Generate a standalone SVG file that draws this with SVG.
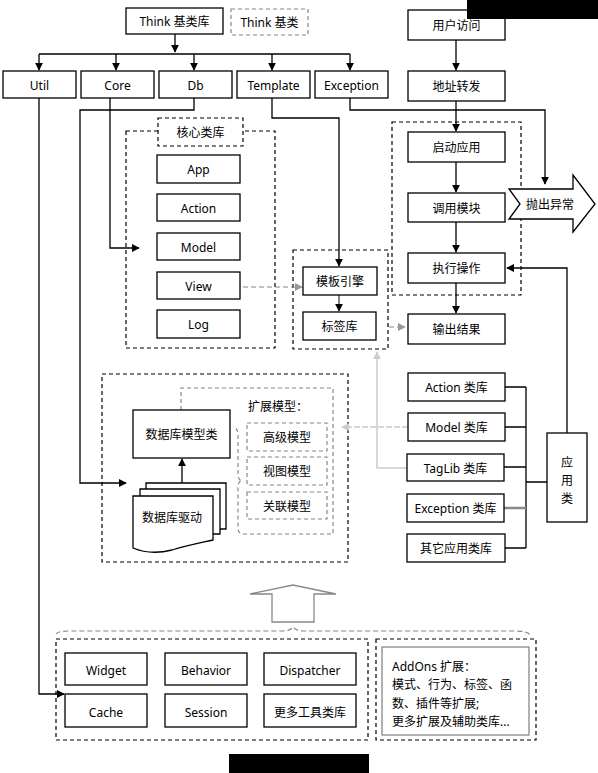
<svg xmlns="http://www.w3.org/2000/svg" width="598" height="773" viewBox="0 0 598 773">
<style>
.box{fill:#fff;stroke:#000;stroke-width:1.3}
.dash{fill:none;stroke:#000;stroke-width:1.2;stroke-dasharray:4,3}
.gdash{fill:none;stroke:#888;stroke-width:1.2;stroke-dasharray:4,3}
.gbox{fill:#fff;stroke:#888;stroke-width:1.3}
.ln{fill:none;stroke:#000;stroke-width:1.3}
.gl{fill:none;stroke:#ccc;stroke-width:1.5}
.gld{fill:none;stroke:#ccc;stroke-width:1.5;stroke-dasharray:6,2}
.gd{fill:none;stroke:#888;stroke-width:1.2;stroke-dasharray:5,3}
text{font-family:"Noto Sans","Noto Sans CJK SC",sans-serif;font-size:12px;fill:#000}
.c{text-anchor:middle;dominant-baseline:central}
.l{dominant-baseline:central}
</style>
<defs>
<marker id="ab" viewBox="0 0 10 10" refX="9" refY="5" markerWidth="8" markerHeight="8" markerUnits="userSpaceOnUse" orient="auto"><path d="M0,0L10,5L0,10z" fill="#000"/></marker>
<marker id="ag" viewBox="0 0 10 10" refX="9" refY="5" markerWidth="8" markerHeight="8" markerUnits="userSpaceOnUse" orient="auto"><path d="M0,0L10,5L0,10z" fill="#999"/></marker>
<marker id="al" viewBox="0 0 10 10" refX="9" refY="5" markerWidth="8" markerHeight="8" markerUnits="userSpaceOnUse" orient="auto"><path d="M0,0L10,5L0,10z" fill="#ccc"/></marker>
</defs>

<!-- containers -->
<g id="core-group">
<rect class="dash" x="126" y="131" width="149" height="217"/>
<rect x="158" y="118" width="85" height="28" fill="#fff" stroke="#000" stroke-width="1.2" stroke-dasharray="4,3"/>
<text class="c" x="200.5" y="132">核心类库</text>
</g>
<g id="app-flow-group"><rect class="dash" x="392" y="122" width="129" height="173"/></g>
<g id="template-group"><rect class="dash" x="293" y="250" width="95" height="99"/></g>
<g id="model-group"><rect class="dash" x="102" y="374" width="246" height="188"/></g>
<g id="ext-model-group">
<path class="gdash" d="M181,410V388H333V534H244Q238,534 238,528V487Q238,481 242,481Q238,480 238,474V435Q238,428 233,427"/>
<text class="l" x="248" y="406">扩展模型：</text>
</g>
<g id="tools-group"><rect class="dash" x="56" y="639" width="312" height="101"/></g>
<g id="addons-group"><rect class="dash" x="376" y="639" width="160" height="101"/></g>

<!-- connectors -->
<g id="connectors">
<path class="ln" d="M175,34V52" marker-end="url(#ab)"/>
<path class="ln" d="M39,54H350"/>
<path class="ln" d="M39,54V70" marker-end="url(#ab)"/>
<path class="ln" d="M116,54V70" marker-end="url(#ab)"/>
<path class="ln" d="M194,54V70" marker-end="url(#ab)"/>
<path class="ln" d="M272,54V70" marker-end="url(#ab)"/>
<path class="ln" d="M350,54V70" marker-end="url(#ab)"/>
<path class="ln" d="M39,98V694H64" marker-end="url(#ab)"/>
<path class="ln" d="M110,98V248H139" marker-end="url(#ab)"/>
<path class="ln" d="M194,98V110H80V483H126" marker-end="url(#ab)"/>
<path class="ln" d="M272,98V118H339V266" marker-end="url(#ab)"/>
<path class="ln" d="M350,98V110H545V184" marker-end="url(#ab)"/>
<path class="ln" d="M456,40V70" marker-end="url(#ab)"/>
<path class="ln" d="M456,101V131" marker-end="url(#ab)"/>
<path class="ln" d="M456,162V192" marker-end="url(#ab)"/>
<path class="ln" d="M456,222V252" marker-end="url(#ab)"/>
<path class="ln" d="M456,283V313" marker-end="url(#ab)"/>
<path class="ln" d="M567,433V268H507" marker-end="url(#ab)"/>
<path class="gd" d="M235,287H302" marker-end="url(#ag)"/>
<path d="M339,295V311" fill="none" stroke="#444" stroke-width="1.3" marker-end="url(#ab)"/>
<path class="gd" d="M389,327H405" marker-end="url(#ag)"/>
<path class="gl" d="M407,468H377V352" marker-end="url(#al)"/>
<path class="gld" d="M408,427H342" marker-end="url(#al)"/>
<path class="ln" d="M182,483V459" marker-end="url(#ab)"/>
<path class="ln" d="M505,387H526M505,427H526M504,467H526M505,548H526M526,387V548M526,482H547"/>
<path d="M504,508H526" stroke="#888" stroke-width="2.5"/>
<path class="gd" d="M56,634Q58,631 70,631H283Q290,631 293,627Q296,631 303,631H515Q528,631 530,635"/>
</g>

<!-- nodes -->
<g id="think-lib"><rect class="box" x="126" y="8" width="97" height="26"/><text class="c" x="174.5" y="21">Think 基类库</text></g>
<g id="think-base"><rect class="gdash" x="231" y="9" width="77" height="26"/><text class="c" x="269.5" y="22">Think 基类</text></g>
<g id="util"><rect class="box" x="3" y="71" width="73" height="27"/><text class="c" x="39.5" y="85">Util</text></g>
<g id="core"><rect class="box" x="81" y="71" width="73" height="27"/><text class="c" x="117.5" y="85">Core</text></g>
<g id="db"><rect class="box" x="159" y="71" width="73" height="27"/><text class="c" x="195.5" y="85">Db</text></g>
<g id="template"><rect class="box" x="237" y="71" width="73" height="27"/><text class="c" x="273.5" y="85">Template</text></g>
<g id="exception"><rect class="box" x="315" y="71" width="73" height="27"/><text class="c" x="351.5" y="85">Exception</text></g>
<g id="user-visit"><rect class="box" x="408" y="10" width="97" height="30"/><text class="c" x="456.5" y="25">用户访问</text></g>
<g id="url-route"><rect class="box" x="408" y="71" width="97" height="30"/><text class="c" x="456.5" y="86">地址转发</text></g>
<g id="start-app"><rect class="box" x="408" y="132" width="97" height="30"/><text class="c" x="456.5" y="147">启动应用</text></g>
<g id="call-module"><rect class="box" x="408" y="193" width="97" height="29"/><text class="c" x="456.5" y="208">调用模块</text></g>
<g id="exec-action"><rect class="box" x="408" y="253" width="97" height="30"/><text class="c" x="456.5" y="268">执行操作</text></g>
<g id="output"><rect class="box" x="408" y="314" width="97" height="30"/><text class="c" x="456.5" y="329">输出结果</text></g>
<g id="throw-ex"><path class="box" d="M509,189H573V175L595,204L573,232V219H509L520,204Z"/><text class="c" x="550" y="204">抛出异常</text></g>
<g id="app"><rect class="box" x="157" y="155" width="83" height="28"/><text class="c" x="198.5" y="169">App</text></g>
<g id="action"><rect class="box" x="157" y="194" width="83" height="27"/><text class="c" x="198.5" y="208">Action</text></g>
<g id="model"><rect class="box" x="157" y="233" width="83" height="27"/><text class="c" x="198.5" y="247">Model</text></g>
<g id="view"><rect class="box" x="157" y="272" width="83" height="27"/><text class="c" x="198.5" y="286">View</text></g>
<g id="log"><rect class="box" x="157" y="310" width="83" height="28"/><text class="c" x="198.5" y="324">Log</text></g>
<g id="tpl-engine"><rect class="box" x="303" y="267" width="74" height="28"/><text class="c" x="340" y="281">模板引擎</text></g>
<g id="taglib"><rect class="box" x="303" y="312" width="73" height="28"/><text class="c" x="339.5" y="326">标签库</text></g>
<g id="db-model"><rect class="box" x="133" y="410" width="97" height="48"/><text class="c" x="181.5" y="434">数据库模型类</text></g>
<g id="db-driver">
<path class="box" d="M146,489V483H226V529H219"/>
<path class="box" d="M140,496V489H220V534H213"/>
<path class="box" d="M133,496H213V540C195,544 185,546 172,550C160,553 145,553 133,548Z"/>
<text class="c" x="172" y="517">数据库驱动</text>
</g>
<g id="adv-model"><rect class="gdash" x="247" y="423" width="80" height="28"/><text class="c" x="287" y="437">高级模型</text></g>
<g id="view-model"><rect class="gdash" x="247" y="457" width="80" height="28"/><text class="c" x="287" y="471">视图模型</text></g>
<g id="rel-model"><rect class="gdash" x="247" y="492" width="80" height="27"/><text class="c" x="287" y="506">关联模型</text></g>
<g id="action-lib"><rect class="box" x="408" y="373" width="97" height="28"/><text class="c" x="456.5" y="387">Action 类库</text></g>
<g id="model-lib"><rect class="box" x="408" y="413" width="97" height="28"/><text class="c" x="456.5" y="427">Model 类库</text></g>
<g id="taglib-lib"><rect class="box" x="407" y="454" width="97" height="27"/><text class="c" x="455.5" y="468">TagLib 类库</text></g>
<g id="exception-lib"><rect class="box" x="407" y="494" width="97" height="28"/><text class="c" x="455.5" y="508">Exception 类库</text></g>
<g id="other-lib"><rect class="box" x="407" y="534" width="98" height="28"/><text class="c" x="456" y="548">其它应用类库</text></g>
<g id="app-class"><rect class="box" x="547" y="433" width="40" height="89"/><text class="c" x="567" y="462">应</text><text class="c" x="567" y="480">用</text><text class="c" x="567" y="498">类</text></g>
<g id="up-arrow"><path d="M272,622H314V594H336L293,585L250,594H272Z" fill="#fff" stroke="#888" stroke-width="1.3"/></g>
<g id="widget"><rect class="box" x="65" y="653" width="82" height="32"/><text class="c" x="106" y="670">Widget</text></g>
<g id="behavior"><rect class="box" x="165" y="653" width="82" height="32"/><text class="c" x="206" y="670">Behavior</text></g>
<g id="dispatcher"><rect class="box" x="264" y="653" width="92" height="32"/><text class="c" x="310" y="670">Dispatcher</text></g>
<g id="cache"><rect class="box" x="65" y="694" width="82" height="33"/><text class="c" x="106" y="712">Cache</text></g>
<g id="session"><rect class="box" x="165" y="694" width="82" height="33"/><text class="c" x="206" y="712">Session</text></g>
<g id="more-tools"><rect class="box" x="264" y="694" width="92" height="33"/><text class="c" x="310" y="712">更多工具类库</text></g>
<g id="addons">
<rect class="gbox" x="382" y="647" width="147" height="88"/>
<text class="l" x="392" y="666">AddOns 扩展：</text>
<text class="l" x="392" y="684">模式、行为、标签、函</text>
<text class="l" x="392" y="703">数、插件等扩展;</text>
<text class="l" x="392" y="721">更多扩展及辅助类库...</text>
</g>
<rect x="467" y="0" width="131" height="19" fill="#000"/>
<rect x="229" y="754" width="140" height="19" fill="#000"/>
</svg>
